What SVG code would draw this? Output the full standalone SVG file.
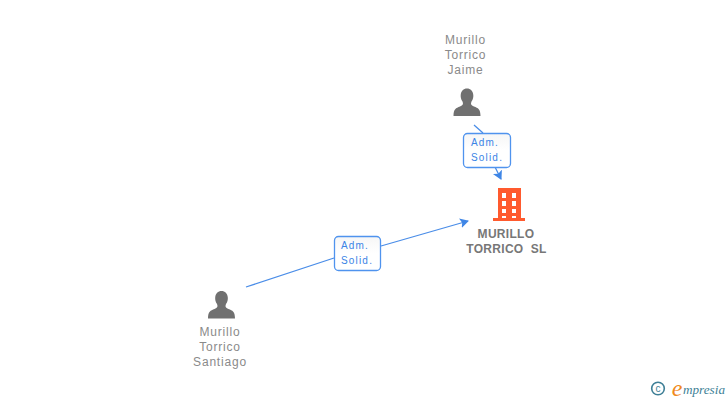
<svg xmlns="http://www.w3.org/2000/svg" width="728" height="400" viewBox="0 0 728 400">
<style>
text{font-family:"Liberation Sans",Arial,sans-serif}
.n{font-size:12px;fill:#8a8a8a;text-anchor:middle;letter-spacing:.8px}
.c{font-size:12px;font-weight:bold;fill:#777;text-anchor:middle;letter-spacing:.3px;white-space:pre}
.l{font-size:10px;fill:#3a84e6;text-anchor:middle;letter-spacing:1.2px}
.e{fill:none;stroke:#4a8de8;stroke-width:1.3}
.b{fill:url(#g);stroke:#4f93ee;stroke-width:1.3}
.p{fill:#707070}
</style>
<defs>
<linearGradient id="g" x1="0" y1="0" x2="0" y2="1"><stop offset="0" stop-color="#f6f6f6"/><stop offset=".5" stop-color="#fff"/></linearGradient>
<marker id="a" markerWidth="12" markerHeight="12" refX="8" refY="5" orient="auto" markerUnits="userSpaceOnUse"><path d="M0 0L9 5L0 10L2 5Z" fill="#3f86e6"/></marker>
<path id="u" d="M-13.500 14C-13.500 7-11 6-7 4.500C-4 3.300-3.500 2-4.500-.5C-6-2.500-6.500-5-6.300-7C-6-11-3.500-13.500 0-13.500C3.500-13.500 6-11 6.300-7C6.500-5 6-2.500 4.500-.5C3.500 2 4 3.300 7 4.500C11 6 13.500 7 13.500 14Z"/>
</defs>
<g id="connectors">
<path class="e" d="M474 125L483 133M495 167L501 179" marker-end="url(#a)"/>
<path class="e" d="M246 287L334 258M381 246L468 221" marker-end="url(#a)"/>
</g>
<g id="node-jaime">
<text class="n"><tspan x="465.500" y="44">Murillo</tspan><tspan x="465.500" y="59">Torrico</tspan><tspan x="465.500" y="74">Jaime</tspan></text>
<use href="#u" class="p" x="467" y="102"/>
</g>
<g id="node-santiago">
<text class="n"><tspan x="220" y="336">Murillo</tspan><tspan x="220" y="351">Torrico</tspan><tspan x="220" y="366">Santiago</tspan></text>
<use href="#u" class="p" x="221.500" y="304.500"/>
</g>
<g id="node-company">
<path fill="#ff5a2e" fill-rule="evenodd" d="M498 188H521V218H525V221H493V218H498ZM502 193H506V198H502ZM512 193H516V198H512ZM502 201H506V206H502ZM512 201H516V206H512ZM502 209H506V213H502ZM512 209H516V213H512ZM502 216H506V218H502ZM512 216H516V218H512Z"/>
<text class="c"><tspan x="506" y="238">MURILLO</tspan><tspan x="506.500" y="253">TORRICO  SL</tspan></text>
</g>
<g id="label-1">
<rect class="b" x="463.500" y="133.500" width="47" height="34" rx="4"/>
<text class="l"><tspan x="485" y="146">Adm.</tspan><tspan x="487" y="161">Solid.</tspan></text>
</g>
<g id="label-2">
<rect class="b" x="334.500" y="236.500" width="46" height="34" rx="4"/>
<text class="l"><tspan x="355" y="249">Adm.</tspan><tspan x="357" y="264">Solid.</tspan></text>
</g>
<g id="logo">
<circle cx="658" cy="388.500" r="6.300" fill="none" stroke="#3e7f96" stroke-width="1.600"/>
<text x="658" y="392" font-size="10" fill="#3e7f96" text-anchor="middle">c</text>
<text x="677" y="396" font-size="24" fill="#f08a1d" text-anchor="middle" style="font-family:'Liberation Serif',serif;font-style:italic">e</text>
<text x="683" y="394" font-size="13.200" fill="#3e7f96" style="font-family:'Liberation Serif',serif;font-style:italic">mpresia</text>
</g>
</svg>
